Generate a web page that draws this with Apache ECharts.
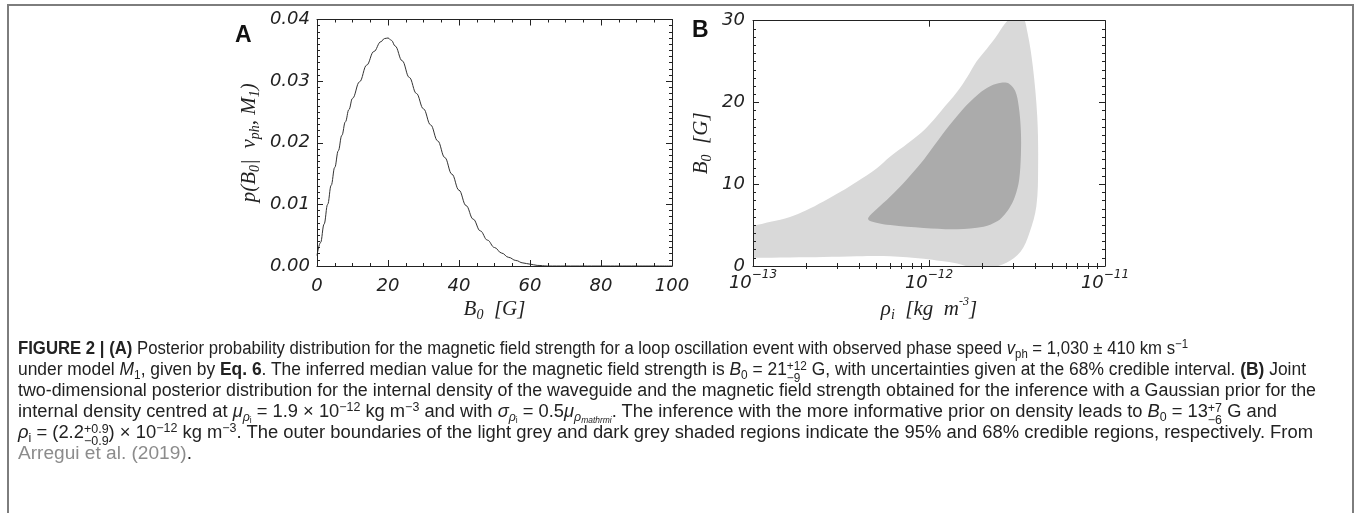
<!DOCTYPE html>
<html>
<head>
<meta charset="utf-8">
<title>Figure 2</title>
<script src="https://cdn.jsdelivr.net/npm/echarts@6.0.0/dist/echarts.min.js"></script>
<style>
    html, body { margin: 0; padding: 0; background: #fff; }
    body { width: 1356px; height: 513px; position: relative; overflow: hidden; }
    #frame { position: absolute; left: 7px; top: 4px; width: 1347px; height: 600px;
             border: 2px solid #7d7d7d; border-bottom: none; box-sizing: border-box; }
    #chart { position: absolute; left: 0; top: 0; width: 1356px; height: 513px; }
    #caption { position: absolute; left: 18px; top: 338px; color: #222;
               font-family: 'Liberation Sans', Arial, sans-serif; font-size: 18px; white-space: nowrap; }
    #caption .ln { height: 21px; line-height: 21px; }
    #caption .t { display: inline-block; transform-origin: 0 50%; }
    #caption b { font-weight: bold; }
    #caption i { font-style: italic; }
    .sp { font-size: 0.68em; vertical-align: 0.5em; line-height: 0; }
    .sb { font-size: 0.68em; vertical-align: -0.3em; line-height: 0; }
    .st { display: inline-block; font-size: 0.68em; line-height: 0.95; vertical-align: -0.55em; }
    .st span { display: block; }
    .ref { color: #8c8c8c; }
</style>
</head>
<body>
<div id="frame"></div>
<div id="chart"></div>
<div id="caption">
    <div class="ln"><span class="t"><b>FIGURE 2 | (A)</b> Posterior probability distribution for the magnetic field strength for a loop oscillation event with observed phase speed <i>v</i><span class="sb">ph</span> = 1,030 ± 410 km s<span class="sp">−1</span></span></div>
    <div class="ln"><span class="t">under model <i>M</i><span class="sb">1</span>, given by <b>Eq. 6</b>. The inferred median value for the magnetic field strength is <i>B</i><span class="sb">0</span> = 21<span class="st"><span>+12</span><span>−9</span></span> G, with uncertainties given at the 68% credible interval. <b>(B)</b> Joint</span></div>
    <div class="ln"><span class="t">two-dimensional posterior distribution for the internal density of the waveguide and the magnetic field strength obtained for the inference with a Gaussian prior for the</span></div>
    <div class="ln"><span class="t">internal density centred at <i>μ</i><span class="sb"><i>ρ</i><span class="sb">i</span></span> = 1.9 × 10<span class="sp">−12</span> kg m<span class="sp">−3</span> and with <i>σ</i><span class="sb"><i>ρ</i><span class="sb">i</span></span> = 0.5<i>μ</i><span class="sb"><i>ρ</i><span class="sb"><i>mathrmi</i></span></span>. The inference with the more informative prior on density leads to <i>B</i><span class="sb">0</span> = 13<span class="st"><span>+7</span><span>−6</span></span> G and</span></div>
    <div class="ln"><span class="t"><i>ρ</i><span class="sb">i</span> = (2.2<span class="st"><span>+0.9</span><span>−0.9</span></span>) × 10<span class="sp">−12</span> kg m<span class="sp">−3</span>. The outer boundaries of the light grey and dark grey shaded regions indicate the 95% and 68% credible regions, respectively. From</span></div>
    <div class="ln"><span class="t"><span class="ref">Arregui et al. (2019)</span>.</span></div>
</div>
<script>
// 图A：磁场强度 B0 的后验分布
const bField = [0, 1, 2, 3, 4, 5, 6, 7, 8, 9, 10, 12, 14, 16, 18, 19, 20, 21, 22, 24, 26, 28, 30, 32, 34, 36, 38, 40,
                42, 44, 46, 48, 50, 52, 54, 56, 58, 60, 62, 65, 70, 80, 90, 100];
const probB = [0.0017, 0.0038, 0.0068, 0.0100, 0.0131, 0.0160, 0.0187, 0.0212, 0.0234, 0.0254, 0.0272, 0.0299, 0.0326,
               0.0348, 0.0364, 0.0369, 0.0370, 0.0366, 0.0357, 0.0333, 0.0306, 0.0280, 0.0255, 0.0229, 0.0203, 0.0176,
               0.0149, 0.0123, 0.0098, 0.0076, 0.0057, 0.0042, 0.0030, 0.0021, 0.0014, 0.0009, 0.0005, 0.0003, 0.0001,
               0, 0, 0, 0, 0];
const xTicksA = [0, 20, 40, 60, 80, 100];
const yTicksA = ['0.00', '0.01', '0.02', '0.03', '0.04'];

// 图B：95% 可信区域边界（log10 ρi, B0）
const outerLogRho = [-13.08, -13.0, -12.9, -12.79, -12.7, -12.6, -12.5, -12.41, -12.3, -12.22, -12.12, -12.02, -11.93,
                     -11.84, -11.78, -11.73, -11.67, -11.62, -11.57, -11.52, -11.47, -11.44, -11.41, -11.385, -11.38,
                     -11.39, -11.43, -11.48, -11.56, -11.65, -11.75, -11.84, -11.93, -12.03, -12.22, -12.41, -12.6,
                     -12.79, -13.0, -13.08];
const outerB = [4.6, 4.9, 5.4, 6.0, 6.8, 7.9, 9.1, 10.3, 11.9, 13.4, 15.0, 16.8, 19.0, 21.3, 23.2, 25.0, 26.6, 28.0, 29.6,
                30.6, 30.6, 28.5, 24.4, 18.3, 12.1, 7.3, 4.0, 1.75, 0.4, -0.2, -0.2, 0.3, 0.6, 0.9, 1.2, 1.2, 1.1, 1.05,
                1.0, 1.0];
// 图B：68% 可信区域边界
const innerLogRho = [-12.345, -12.30, -12.22, -12.13, -12.03, -11.92, -11.81, -11.72, -11.65, -11.59, -11.545, -11.51,
                     -11.49, -11.478, -11.478, -11.488, -11.51, -11.535, -11.57, -11.61, -11.69, -11.84, -12.03, -12.22,
                     -12.30, -12.34];
const innerB = [5.9, 6.9, 8.5, 10.5, 13.0, 16.2, 19.1, 21.0, 22.0, 22.4, 22.3, 21.4, 19.5, 16.5, 13.5, 10.5, 8.6, 7.4,
                6.3, 5.5, 4.8, 4.5, 4.65, 5.0, 5.3, 5.55];
const xTicksB = [-13, -12, -11];
const yTicksB = [0, 10, 20, 30];

// 图注每行在原图中的宽度
const captionWidths = [1170, 1288, 1298, 1259, 1295, 174];

const ink = '#222';
const labelFont = { fontFamily: 'DejaVu Sans', fontStyle: 'italic', fontWeight: 200, fontSize: 18, color: ink };
const nameFont = { fontFamily: 'Liberation Serif', fontStyle: 'italic', fontSize: 21, color: ink };

// 名称富文本样式：i 正文，s 下标，p 上标
const nameRich = {
    i: Object.assign({ lineHeight: 26, verticalAlign: 'middle' }, nameFont),
    s: Object.assign({}, nameFont, { fontSize: 14, lineHeight: 10, verticalAlign: 'bottom' }),
    p: Object.assign({}, nameFont, { fontSize: 12, lineHeight: 10, verticalAlign: 'top' })
};

// 对数刻度的次刻度（2..9 × 10^n）
const minorLog = [];
for (let d = xTicksB[0]; d < xTicksB[xTicksB.length - 1]; d++) {
    for (let k = 2; k <= 9; k++) minorLog.push(d + Math.log10(k));
}

function frameAxis(extra) {
    return Object.assign({
        type: 'value',
        z: 10,
        axisLine: { show: true, onZero: false, lineStyle: { color: ink, width: 1 } },
        axisTick: { show: true, inside: true, length: 6, lineStyle: { color: ink } },
        splitLine: { show: false },
        axisLabel: { show: false }
    }, extra);
}

function regionSeries(xs, ys, color) {
    return {
        type: 'custom',
        xAxisIndex: 2,
        yAxisIndex: 2,
        z: 2,
        silent: true,
        data: xs.map((x, i) => [x, ys[i]]),
        renderItem: function (params, api) {
            if (params.dataIndex !== 0) return null;
            const cs = params.coordSys;
            const pts = xs.map((x, i) => api.coord([x, ys[i]]));
            return {
                type: 'polygon',
                shape: { points: pts, smooth: 0.35 },
                style: { fill: color },
                clipPath: { type: 'rect', shape: { x: cs.x, y: cs.y, width: cs.width, height: cs.height } }
            };
        }
    };
}

const chart = echarts.init(document.getElementById('chart'), null, { renderer: 'canvas' });

const option = {
    animation: false,
    grid: [
        { left: 317, top: 19.5, width: 355, height: 246.5 },
        { left: 753, top: 20.7, width: 352, height: 245.3 }
    ],
    xAxis: [
        frameAxis({
            gridIndex: 0, position: 'bottom', min: xTicksA[0], max: xTicksA[xTicksA.length - 1], interval: 20,
            minorTick: { show: true, splitNumber: 4, length: 3, lineStyle: { color: ink } },
            axisLabel: Object.assign({ show: true, margin: 11 }, labelFont),
            name: '{i|B}{s|0}{i|  [G]}', nameLocation: 'middle', nameGap: 30,
            nameTextStyle: { rich: nameRich }
        }),
        frameAxis({
            gridIndex: 0, position: 'top', min: xTicksA[0], max: xTicksA[xTicksA.length - 1], interval: 20,
            minorTick: { show: true, splitNumber: 4, length: 3, lineStyle: { color: ink } }
        }),
        frameAxis({
            gridIndex: 1, position: 'bottom', min: xTicksB[0], max: xTicksB[xTicksB.length - 1], interval: 1,
            axisLabel: {
                show: true, margin: 3,
                formatter: v => '{b|10}{e|−' + Math.abs(v) + '}',
                rich: {
                    b: Object.assign({}, labelFont, { lineHeight: 28, verticalAlign: 'middle' }),
                    e: Object.assign({}, labelFont, { fontSize: 12, lineHeight: 11, verticalAlign: 'top' })
                }
            },
            name: '{i|ρ}{s|i}{i|  [kg  m}{p|-3}{i|]}', nameLocation: 'middle', nameGap: 30,
            nameTextStyle: { rich: nameRich }
        }),
        frameAxis({
            gridIndex: 1, position: 'bottom', min: xTicksB[0], max: xTicksB[xTicksB.length - 1],
            axisLine: { show: false },
            axisTick: { show: true, inside: true, length: 3, customValues: minorLog, lineStyle: { color: ink } }
        }),
        frameAxis({
            gridIndex: 1, position: 'top', min: xTicksB[0], max: xTicksB[xTicksB.length - 1], interval: 1
        }),
        frameAxis({
            gridIndex: 1, position: 'top', min: xTicksB[0], max: xTicksB[xTicksB.length - 1],
            axisLine: { show: false },
            axisTick: { show: true, inside: true, length: 3, customValues: minorLog, lineStyle: { color: ink } }
        })
    ],
    yAxis: [
        frameAxis({
            gridIndex: 0, position: 'left', min: 0, max: 0.04, interval: 0.01,
            minorTick: { show: true, splitNumber: 10, length: 3, lineStyle: { color: ink } },
            axisLabel: Object.assign({ show: true, margin: 7, formatter: (v, i) => yTicksA[i] }, labelFont),
            name: '{i|p(B}{s|0}{i||  v}{s|ph}{i|, M}{s|1}{i|)}', nameLocation: 'middle', nameGap: 55,
            nameTextStyle: { rich: nameRich }
        }),
        frameAxis({
            gridIndex: 0, position: 'right', min: 0, max: 0.04, interval: 0.01,
            minorTick: { show: true, splitNumber: 10, length: 3, lineStyle: { color: ink } }
        }),
        frameAxis({
            gridIndex: 1, position: 'left', min: yTicksB[0], max: yTicksB[yTicksB.length - 1], interval: 10,
            minorTick: { show: true, splitNumber: 10, length: 3, lineStyle: { color: ink } },
            axisLabel: Object.assign({ show: true, margin: 8 }, labelFont),
            name: '{i|B}{s|0}{i|  [G]}', nameLocation: 'middle', nameGap: 39,
            nameTextStyle: { rich: nameRich }
        }),
        frameAxis({
            gridIndex: 1, position: 'right', min: yTicksB[0], max: yTicksB[yTicksB.length - 1], interval: 10,
            minorTick: { show: true, splitNumber: 10, length: 3, lineStyle: { color: ink } }
        })
    ],
    graphic: [
        { type: 'text', left: 235, top: 24, style: { text: 'A', font: 'bold 23px "Liberation Sans"', fill: '#111' } },
        { type: 'text', left: 692, top: 19, style: { text: 'B', font: 'bold 23px "Liberation Sans"', fill: '#111' } }
    ],
    series: [
        {
            type: 'line',
            xAxisIndex: 0,
            yAxisIndex: 0,
            data: bField.map((b, i) => [b, probB[i]]),
            showSymbol: false,
            smooth: 0.4,
            smoothMonotone: 'x',
            lineStyle: { color: '#333', width: 1 },
            z: 3
        },
        regionSeries(outerLogRho, outerB, '#d9d9d9'),
        regionSeries(innerLogRho, innerB, '#ababab')
    ]
};
chart.setOption(option);

// 按原图的行宽压缩图注每一行
document.querySelectorAll('#caption .t').forEach(function (el, i) {
    const w = el.getBoundingClientRect().width;
    el.style.transform = 'scaleX(' + (captionWidths[i] / w) + ')';
});
</script>
</body>
</html>
